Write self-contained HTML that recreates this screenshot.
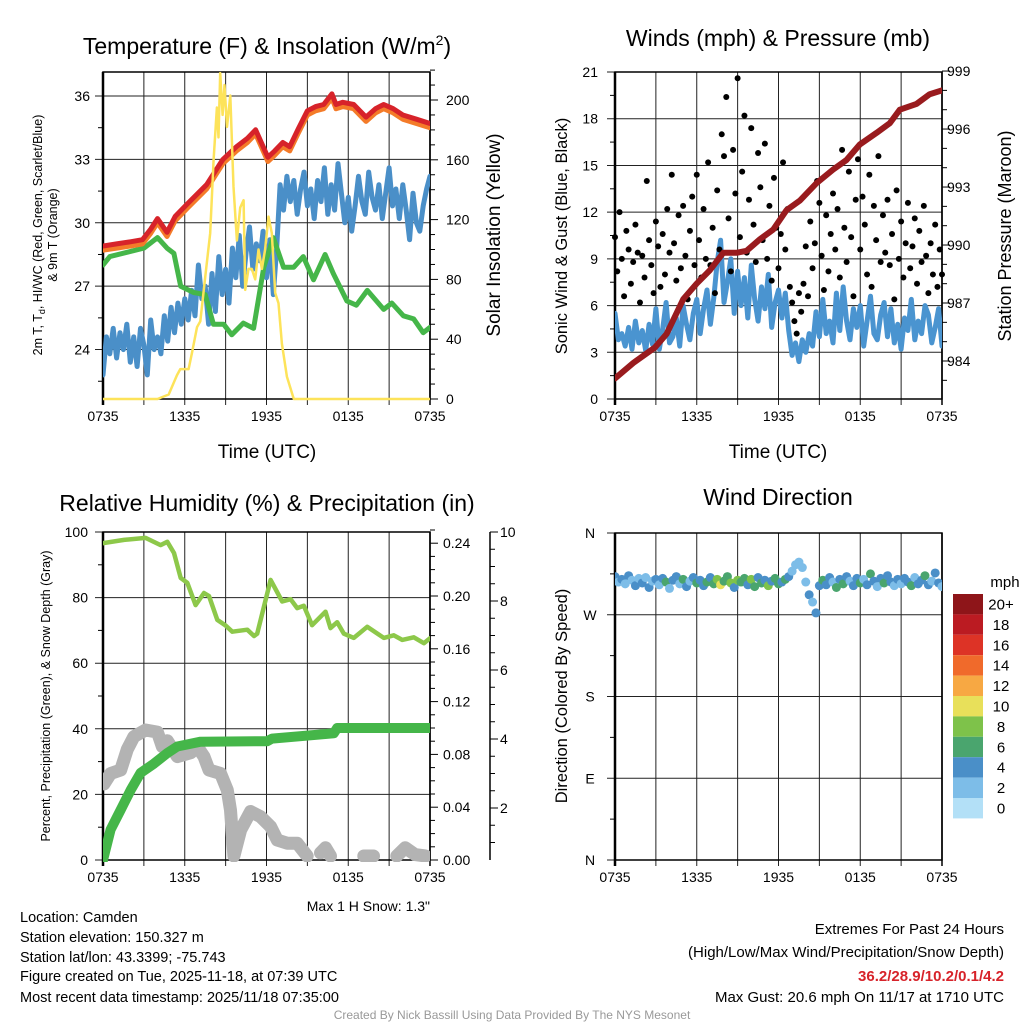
<!DOCTYPE html>
<html><head><meta charset="utf-8"><style>
body{margin:0;background:#fff}
svg{display:block;font-family:"Liberation Sans",Arial,sans-serif}
</style></head><body>
<svg id="chart" width="1024" height="1024" viewBox="0 0 1024 1024" xmlns="http://www.w3.org/2000/svg">
<rect width="1024" height="1024" fill="#fff"/>
<g id="texts" fill="#000">
<text x="267" y="54" font-size="23" text-anchor="middle">Temperature (F) &amp; Insolation (W/m<tspan font-size="14" dy="-9">2</tspan><tspan dy="9">)</tspan></text>
<text x="778" y="46" font-size="23" text-anchor="middle">Winds (mph) &amp; Pressure (mb)</text>
<text x="267" y="511" font-size="23" text-anchor="middle">Relative Humidity (%) &amp; Precipitation (in)</text>
<text x="778" y="505" font-size="23" text-anchor="middle">Wind Direction</text>
<text x="267" y="458" font-size="19" text-anchor="middle">Time (UTC)</text>
<text x="778" y="458" font-size="19" text-anchor="middle">Time (UTC)</text>
<text transform="translate(42,235) rotate(-90)" font-size="12.5" text-anchor="middle">2m T, T<tspan font-size="9" dy="3">d</tspan><tspan dy="-3">, HI/WC (Red, Green, Scarlet/Blue)</tspan></text>
<text transform="translate(57,235) rotate(-90)" font-size="12.5" text-anchor="middle">&amp; 9m T (Orange)</text>
<text transform="translate(500,235) rotate(-90)" font-size="19" text-anchor="middle">Solar Insolation (Yellow)</text>
<text transform="translate(567,236) rotate(-90)" font-size="16.5" text-anchor="middle">Sonic Wind &amp; Gust (Blue, Black)</text>
<text transform="translate(1011,236) rotate(-90)" font-size="18" text-anchor="middle">Station Pressure (Maroon)</text>
<text transform="translate(50,696) rotate(-90)" font-size="12.5" text-anchor="middle">Percent, Precipitation (Green), &amp; Snow Depth (Gray)</text>
<text transform="translate(567,696) rotate(-90)" font-size="16.5" text-anchor="middle">Direction (Colored By Speed)</text>
<text x="430" y="911" font-size="14" text-anchor="end">Max 1 H Snow: 1.3"</text>
<g font-size="14.5">
<text x="20" y="922">Location: Camden</text>
<text x="20" y="942">Station elevation: 150.327 m</text>
<text x="20" y="962">Station lat/lon: 43.3399; -75.743</text>
<text x="20" y="981">Figure created on Tue, 2025-11-18, at 07:39 UTC</text>
<text x="20" y="1002">Most recent data timestamp: 2025/11/18 07:35:00</text>
</g>
<g font-size="15" text-anchor="end">
<text x="1004" y="934">Extremes For Past 24 Hours</text>
<text x="1004" y="957">(High/Low/Max Wind/Precipitation/Snow Depth)</text>
<text x="1004" y="981" fill="#d7232a" font-weight="bold">36.2/28.9/10.2/0.1/4.2</text>
<text x="1004" y="1002">Max Gust: 20.6 mph On 11/17 at 1710 UTC</text>
</g>
<text x="512" y="1019" font-size="12" fill="#999" text-anchor="middle">Created By Nick Bassill Using Data Provided By The NYS Mesonet</text>
<text x="1005" y="587" font-size="15" text-anchor="middle">mph</text>
</g>
</svg>
<script>
// ---------- DATA ----------
const xTickLabels = ["0735","1335","1935","0135","0735"];
const tempTicks = [24,27,30,33,36];
const insolTicks = [0,40,80,120,160,200];
const windTicks = [0,3,6,9,12,15,18,21];
const pressTicks = [984,987,990,993,996,999];
const rhTicks = [0,20,40,60,80,100];
const precipTicks = [0,0.04,0.08,0.12,0.16,0.20,0.24];
const snowTicks = [2,4,6,8,10];
const dirTicks = ["N","E","S","W","N"];
const cbLabels = ["20+","18","16","14","12","10","8","6","4","2","0"];
const cbColors = ["#8e1519","#bb1b22","#dd3326","#f06a2b","#f7a843","#e8e05a","#7ec24a","#4aa56e","#4a8fc8","#7dbde8","#b3e0f7"];

const redTimes = [0,1,2,2.9,3.5,4.0,4.7,5.3,6.2,7.6,8.8,9.8,10.6,11.2,12.1,12.6,13.2,13.7,14.3,15.0,15.6,16.2,16.8,17.1,17.6,18.4,19.3,20.0,20.6,21.3,22.0,23.0,24.0];
const redTemp = [28.9,29.0,29.1,29.2,29.7,30.2,29.55,30.3,30.9,31.8,33.0,33.6,34.0,34.4,33.1,33.4,33.8,33.6,34.4,35.3,35.5,35.6,36.1,35.6,35.7,35.6,35.0,35.4,35.6,35.4,35.1,34.9,34.7];
const orangeTemp = [28.7,28.8,28.9,29.0,29.5,30.0,29.35,30.1,30.7,31.6,32.8,33.4,33.8,34.2,32.9,33.2,33.6,33.4,34.2,35.1,35.3,35.4,35.9,35.4,35.5,35.4,34.8,35.2,35.4,35.2,34.9,34.7,34.5];
const greenTimes = [0,0.5,3.0,4.0,4.7,5.2,5.7,6.65,7.5,8.1,8.85,9.45,10.3,11.05,11.8,12.5,13.25,14.0,14.7,15.45,16.3,16.9,17.9,18.6,19.4,20.6,21.2,22.05,22.8,23.5,24.0];
const greenTemp = [28.0,28.4,28.8,29.3,28.8,28.55,27.0,26.7,26.6,25.2,25.2,24.7,25.25,25.0,27.9,29.3,27.9,27.9,28.4,27.3,28.5,27.6,26.3,26.1,26.8,25.9,26.2,25.6,25.45,24.8,25.05];
const blueTemp = [22.8,24.6,23.8,25.0,23.6,24.8,24.0,25.2,23.4,24.6,23.2,25.0,24.2,
 22.8,25.4,24.0,24.6,23.8,25.6,24.4,26.0,24.8,26.2,25.2,26.4,
 25.4,26.8,25.6,28.0,26.4,27.0,25.2,27.6,25.8,28.4,26.6,27.8,
 26.2,28.8,27.4,29.4,27.0,28.6,29.8,27.8,29.0,28.2,29.6,27.4,
 29.2,26.6,28.8,31.8,30.6,32.2,31.0,32.0,30.4,31.6,32.4,30.8,
 31.6,30.2,32.0,31.0,32.6,30.4,31.8,30.6,32.8,31.4,30.0,31.2,
 29.6,30.8,32.2,31.0,30.4,32.4,31.2,30.6,31.8,30.2,31.4,32.6,
 30.8,31.6,30.2,31.8,30.6,29.2,31.4,30.0,29.6,30.8,31.6,32.2];
const insolTimes = [0,4.0,4.82,5.43,5.67,6.28,6.53,6.9,7.14,7.51,7.87,8.12,8.36,8.48,8.6,8.78,8.92,9.1,9.34,9.58,9.83,10.07,10.32,10.44,10.68,10.92,11.17,11.41,11.66,11.9,12.15,12.39,12.64,12.88,13.13,13.5,14.0,24];
const insolValues = [0,0,3,16,20,20,31,48,52,82,111,160,195,175,218,190,210,182,203,142,106,128,133,73,87,87,80,100,87,100,122,111,71,64,37,15,0,0];

const windSpeed = [5.5,3.8,4.2,3.4,4.6,3.2,5.0,3.6,4.4,3.1,4.8,3.5,5.8,
 3.2,4.5,6.2,3.6,4.0,5.2,3.4,6.0,4.8,3.8,5.5,6.4,
 4.2,5.8,7.0,4.8,6.5,8.8,10.2,6.2,7.5,9.0,5.5,8.2,
 6.0,7.8,5.2,8.6,6.4,5.0,7.2,5.8,8.0,4.6,6.2,7.0,
 5.2,6.8,4.4,2.8,3.6,2.4,3.8,3.0,4.2,3.4,5.6,4.0,
 6.4,4.2,5.0,3.6,6.8,4.4,7.2,5.0,3.8,5.8,4.6,6.0,
 3.4,5.0,6.6,4.2,3.8,5.4,6.2,4.0,5.8,3.6,4.8,3.2,
 5.2,4.4,6.4,3.8,5.0,4.2,6.0,5.4,3.6,4.6,5.8,3.4];
const windGust = [10.4,8.2,12.0,9.0,6.6,10.8,9.6,7.4,8.8,11.2,9.4,6.2,
 9.2,7.8,14.0,10.2,8.6,6.8,11.4,9.8,7.2,10.6,8.0,12.2,
 9.4,14.4,10.0,7.6,11.8,8.4,12.4,9.2,6.4,10.8,13.0,8.6,
 14.4,10.2,7.8,12.2,9.0,15.2,8.6,11.0,6.8,13.4,9.6,17.0,
 15.6,19.4,11.6,8.2,16.0,13.2,20.6,10.4,14.6,18.2,9.4,12.8,
 17.4,11.2,8.8,15.8,13.6,10.2,16.4,9.0,12.4,7.6,14.2,11.0,
 8.4,10.6,15.2,9.6,12.2,7.2,6.2,5.0,4.2,6.8,5.6,7.4,
 9.8,6.6,11.4,8.4,10.0,14.0,12.6,9.2,7.0,11.8,8.2,10.6,
 13.2,9.6,12.2,7.8,16.0,11.0,8.8,14.6,10.4,6.6,12.8,15.4,
 9.6,13.0,11.2,8.0,14.4,7.2,12.4,10.2,15.6,8.8,11.8,9.4,
 12.8,8.6,10.6,6.4,13.4,9.0,11.4,7.8,10.0,12.6,8.4,9.8,
 11.6,7.4,10.8,8.8,12.4,9.2,6.8,10.0,8.0,11.2,7.2,9.6,8.0];
const pressTimes = [0,1.34,2.93,3.79,5.01,5.99,6.97,7.95,8.92,9.66,10.64,11.61,12.59,13.57,14.79,16.01,16.99,17.97,19.19,20.17,20.9,22.13,23.1,24];
const pressValues = [983.1,983.9,984.7,985.4,987.2,988.0,988.7,989.6,989.6,989.7,990.3,990.8,991.8,992.3,993.2,993.9,994.4,995.2,995.8,996.3,997.0,997.3,997.8,998.0];

const rhTimes = [0,1.54,3.13,4.23,4.72,5.21,5.7,6.19,6.8,7.41,7.78,8.39,9.0,9.49,10.59,11.08,11.32,12.3,13.15,13.77,14.25,14.74,15.35,16.33,16.7,17.19,17.68,18.41,19.39,20.61,21.34,21.96,22.81,23.55,24];
const rhValues = [96.6,97.6,98.2,96.0,97.0,93.6,86.0,84.5,77.7,81.4,80.5,73.2,71.5,69.6,70.2,68.3,69.0,85.4,78.8,79.5,76.8,77.5,71.6,75.7,70.7,72.5,69.0,67.7,71.1,67.7,68.5,67.1,67.9,66.1,67.6];
const precipTimes = [0,0.56,1.3,2.03,2.76,3.74,4.72,5.45,7.16,12.05,12.4,16.94,17.19,24];
const precipValues = [0,0.023,0.038,0.053,0.066,0.073,0.081,0.086,0.0896,0.09,0.092,0.096,0.1,0.1];
const snowTimes = [0.07,0.56,1.3,1.78,2.27,3.13,3.99,4.35,4.72,5.45,6.43,6.92,7.41,7.78,8.63,9.12,9.36,9.61,10.1,10.83,11.56,12.3,12.79,13.52,14.25,14.99,15.4,15.96,16.33,16.7,17.2,19.14,19.85,20.4,21.56,22.18,22.9,23.67];
const snowDepth = [2.7,3.0,3.1,3.7,4.07,4.26,4.2,3.78,3.95,3.49,3.6,3.78,3.49,3.1,3.0,2.52,1.94,0.59,1.36,1.9,1.75,1.46,1.07,0.98,0.98,0.59,null,0.7,0.85,0.6,null,0.6,0.6,null,0.6,0.85,0.65,0.59];

const windDir = [312,306,309,304,313,308,302,310,305,311,300,307,309,
 303,310,306,299,308,312,304,309,301,307,311,305,
 308,302,306,311,304,309,303,307,312,305,300,308,
 306,310,303,309,301,311,305,308,302,307,310,304,
 306,309,312,318,325,328,322,306,292,284,272,302,
 308,303,311,306,300,309,304,312,307,302,310,305,
 309,303,315,307,301,310,305,313,306,302,309,304,
 310,306,302,311,304,308,313,303,307,316,305,301];

// ---------- AXES ----------
const NS="http://www.w3.org/2000/svg";
const svg=document.getElementById('chart');
const P1={x0:103,x1:430,y0:72,y1:399}, P2={x0:615,x1:942,y0:72,y1:399},
      P3={x0:103,x1:430,y0:532,y1:860}, P4={x0:615,x1:942,y0:533,y1:860};
const tx=(p,t)=>p.x0+t/24*(p.x1-p.x0);
const yTemp=v=>96+(36-v)*21.13;
const yInsol=v=>399-v*1.495;
const yWind=v=>399-v*15.57;
const yPress=v=>361-(v-984)*19.33;
const yRH=v=>860-v*3.28;
const yPrecip=v=>860-v*1320;
const ySnow=v=>Math.min(877-v*34.5,856);
const yDir=d=>860-d/360*327;
const spdColor=v=>cbColors[10-Math.min(10,Math.floor(v/2))];

function el(tag,attrs,parent){const e=document.createElementNS(NS,tag);for(const k in attrs)e.setAttribute(k,attrs[k]);(parent||svg).appendChild(e);return e;}
function txt(x,y,s,anchor,size,parent){const e=el('text',{x:x,y:y,'font-size':size||14,'text-anchor':anchor||'middle'},parent);e.textContent=s;return e;}
function pathFrom(times,vals,p,yf){let d='',pen=false;for(let i=0;i<times.length;i++){if(vals[i]===null){pen=false;continue;}d+=(pen?'L':'M')+tx(p,times[i]).toFixed(1)+','+yf(vals[i]).toFixed(1);pen=true;}return d;}
const idxTimes=n=>Array.from({length:n},(_,i)=>i*24/(n-1));

function frame(p,hLines,name){
  const g=el('g',{});
  
  
  for(let h=3;h<24;h+=3){el('line',{x1:tx(p,h),x2:tx(p,h),y1:p.y0,y2:p.y1+6,stroke:'#222','stroke-width':1},g);}
  hLines.forEach(y=>el('line',{x1:p.x0-8,x2:p.x1,y1:y,y2:y,stroke:'#222','stroke-width':1},g));
  for(let h=0;h<=24;h+=6){const t=txt(tx(p,h),p.y1+22,xTickLabels[h/6],'middle',14,g);
    
    }
  return g;
}
function border(p,g){el('rect',{x:p.x0,y:p.y0,width:p.x1-p.x0,height:p.y1-p.y0,fill:'none',stroke:'#000','stroke-width':1.5},g);
  el('line',{x1:p.x0,x2:p.x0,y1:p.y0,y2:p.y1+6,stroke:'#000','stroke-width':2.5},g);
  el('line',{x1:p.x1,x2:p.x1,y1:p.y0,y2:p.y1+6,stroke:'#000','stroke-width':1.5},g);}
function minorTick(p,y,g){if(y>=p.y0&&y<=p.y1)el('line',{x1:p.x0-5,x2:p.x0,y1:y,y2:y,stroke:'#000'},g);}

// Panel 1
const g1=frame(P1,tempTicks.map(yTemp),'temperature');
tempTicks.forEach(v=>{const t=txt(90,yTemp(v)+5,String(v),'end',14,g1);
  
  
  minorTick(P1,yTemp(v-1.5),g1);});
minorTick(P1,yTemp(37.5),g1);
for(let v=0;v<=220;v+=10){el('line',{x1:P1.x1,x2:P1.x1+(v%40===0?8:5),y1:yInsol(v),y2:yInsol(v),stroke:'#000'},g1);}
insolTicks.forEach(v=>{const t=txt(446,yInsol(v)+5,String(v),'start',14,g1);
  
  });
// Panel 2
const g2=frame(P2,windTicks.map(yWind),'winds');
windTicks.forEach(v=>{const t=txt(598,yWind(v)+5,String(v),'end',14,g2);
  
  
  minorTick(P2,yWind(v+1.5),g2);});
for(let v=983;v<=999;v+=1){el('line',{x1:P2.x1,x2:P2.x1+((v-984)%3===0?8:5),y1:yPress(v),y2:yPress(v),stroke:'#000'},g2);}
pressTicks.forEach(v=>{const t=txt(947,yPress(v)+5,String(v),'start',14,g2);
  
  });
// Panel 3
const g3=frame(P3,rhTicks.map(yRH),'humidity');
rhTicks.forEach(v=>{const t=txt(88,yRH(v)+5,String(v),'end',14,g3);
  
  
  minorTick(P3,yRH(v+10),g3);});
for(let i=0;i<=25;i++){const v=i/100;el('line',{x1:P3.x1,x2:P3.x1+(i%4===0?8:5),y1:yPrecip(v),y2:yPrecip(v),stroke:'#000'},g3);}
precipTicks.forEach(v=>{const t=txt(443,yPrecip(v)+5,v.toFixed(2),'start',14,g3);
  
  });
el('line',{x1:490,x2:490,y1:532,y2:860,stroke:'#000','stroke-width':1.5},g3);
for(let s=1;s<=10;s+=0.5){if(877-s*34.5<=860)el('line',{x1:490,x2:490+(s%2===0?8:5),y1:877-s*34.5,y2:877-s*34.5,stroke:'#000'},g3);}
snowTicks.forEach(v=>{const t=txt(500,877-v*34.5+5,String(v),'start',14,g3);
  
  });
// Panel 4
const g4=frame(P4,[0,90,180,270,360].map(yDir),'direction');
[0,90,180,270,360].forEach((d,i)=>{const t=txt(590,yDir(d)+5,dirTicks[i],'middle',14,g4);
  
  
  if(d<360)minorTick(P4,yDir(d+45),g4);});

// ---------- SERIES ----------
function clip(id,p){const c=el('clipPath',{id:id});el('rect',{x:p.x0,y:p.y0-2,width:p.x1-p.x0,height:p.y1-p.y0+4},c);return 'url(#'+id+')';}
const c1=clip('c1',P1),c2=clip('c2',P2),c3=clip('c3',P3),c4=clip('c4',P4);
function series(d,color,w,name,cp){const e=el('path',{d:d,fill:'none',stroke:color,'stroke-width':w,'stroke-linejoin':'round','stroke-linecap':'round','clip-path':cp});
  
  return e;}

series(pathFrom(idxTimes(blueTemp.length),blueTemp,P1,yTemp),'#4a8fc8',5,'wind-chill-line',c1);
series(pathFrom(greenTimes,greenTemp,P1,yTemp),'#45b649',5,'dewpoint-line',c1);
series(pathFrom(redTimes,orangeTemp,P1,yTemp),'#f47b29',5,'9m-temp-line',c1);
series(pathFrom(redTimes,redTemp,P1,yTemp),'#d7232a',5,'2m-temp-line',c1);
series(pathFrom(insolTimes,insolValues,P1,yInsol),'#fde35a',2.5,'insolation-line',c1);

series(pathFrom(idxTimes(windSpeed.length),windSpeed,P2,yWind),'#4a94d0',5,'wind-speed-line',c2);
const gt=idxTimes(windGust.length);
windGust.forEach((v,i)=>{const c=el('circle',{cx:tx(P2,gt[i]),cy:yWind(v),r:3,fill:'#000'});
  
  });
series(pathFrom(pressTimes,pressValues,P2,yPress),'#991b1e',6,'pressure-line',c2);

series(pathFrom(rhTimes,rhValues,P3,yRH),'#8dc84a',4.5,'rh-line',c3);
series(pathFrom(snowTimes,snowDepth,P3,ySnow),'#b3b3b3',13,'snow-depth-line',c3);
series(pathFrom(precipTimes,precipValues,P3,yPrecip),'#45b649',10,'precip-line',c3);

const dt=idxTimes(windDir.length);
windDir.forEach((d,i)=>{const c=el('circle',{cx:tx(P4,dt[i]),cy:yDir(d),r:4.5,fill:spdColor(windSpeed[i]),'clip-path':c4});
  
  });

[[g1,P1],[g2,P2],[g3,P3],[g4,P4]].forEach(a=>border(a[1],a[0]));

// colorbar
const cb=el('g',{});


cbColors.forEach((c,i)=>{const r=el('rect',{x:953,y:594+i*20.4,width:30,height:20.4,fill:c},cb);
  
  
  const t=txt(1001,594+i*20.4+15.5,cbLabels[i],'middle',15,cb);
  
  });
</script>
</body></html>
